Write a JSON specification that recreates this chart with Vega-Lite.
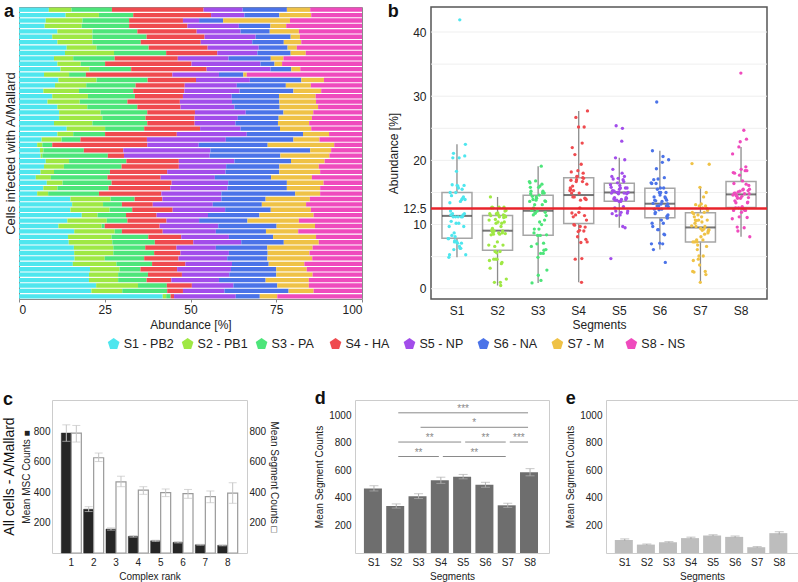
{
  "$schema": "https://vega.github.io/schema/vega-lite/v6.json",
  "padding": {"left": 2, "top": 2, "right": 1, "bottom": 1},
  "background": "white",
  "config": {
    "font": "Liberation Sans",
    "view": {"stroke": "#8c8c8c"},
    "axis": {"labelColor": "#222222", "titleColor": "#222222", "titleFontWeight": "normal", "grid": false, "domain": false, "ticks": false, "labelFontSize": 12, "titleFontSize": 12, "labelOverlap": false},
    "title": {"fontSize": 18, "fontWeight": "bold", "anchor": "start", "frame": "bounds", "color": "#111111"}
  },
  "datasets": {
    "cells": [
      {"cell":1,"S1":8.7,"S2":6.6,"S3":11.8,"S4":26.7,"S5":11.4,"S6":12.9,"S7":6.8,"S8":15.1},
      {"cell":2,"S1":13.6,"S2":9.7,"S3":10.0,"S4":22.7,"S5":9.7,"S6":10.2,"S7":9.3,"S8":14.8},
      {"cell":3,"S1":7.8,"S2":10.7,"S3":13.6,"S4":15.7,"S5":4.7,"S6":7.0,"S7":19.5,"S8":21.0},
      {"cell":4,"S1":7.5,"S2":10.8,"S3":13.8,"S4":17.0,"S5":15.0,"S6":9.2,"S7":4.6,"S8":22.1},
      {"cell":5,"S1":11.2,"S2":10.2,"S3":13.1,"S4":17.3,"S5":12.8,"S6":8.5,"S7":8.5,"S8":18.4},
      {"cell":6,"S1":9.7,"S2":11.7,"S3":15.8,"S4":16.9,"S5":14.9,"S6":10.2,"S7":2.7,"S8":18.1},
      {"cell":7,"S1":11.2,"S2":10.2,"S3":14.1,"S4":17.5,"S5":15.0,"S6":9.2,"S7":5.1,"S8":17.7},
      {"cell":8,"S1":13.9,"S2":8.7,"S3":15.2,"S4":17.2,"S5":14.9,"S6":8.4,"S7":2.7,"S8":19.0},
      {"cell":9,"S1":13.4,"S2":14.3,"S3":15.2,"S4":14.9,"S5":11.7,"S6":9.7,"S7":4.4,"S8":16.4},
      {"cell":10,"S1":10.2,"S2":5.6,"S3":12.1,"S4":18.4,"S5":14.8,"S6":12.3,"S7":3.7,"S8":22.9},
      {"cell":11,"S1":11.2,"S2":6.8,"S3":7.1,"S4":25.2,"S5":20.1,"S6":4.1,"S7":2.2,"S8":23.3},
      {"cell":12,"S1":12.1,"S2":8.4,"S3":12.2,"S4":22.0,"S5":18.6,"S6":6.1,"S7":2.6,"S8":18.0},
      {"cell":13,"S1":7.3,"S2":7.3,"S3":4.9,"S4":25.2,"S5":13.6,"S6":7.1,"S7":1.0,"S8":33.6},
      {"cell":14,"S1":11.5,"S2":11.1,"S3":14.9,"S4":14.1,"S5":15.7,"S6":15.0,"S7":6.6,"S8":11.1},
      {"cell":15,"S1":10.5,"S2":9.1,"S3":14.4,"S4":14.3,"S5":15.2,"S6":14.3,"S7":7.3,"S8":14.9},
      {"cell":16,"S1":7.1,"S2":10.4,"S3":15.8,"S4":14.9,"S5":16.1,"S6":15.7,"S7":8.1,"S8":11.9},
      {"cell":17,"S1":9.7,"S2":10.4,"S3":13.7,"S4":14.0,"S5":14.2,"S6":13.8,"S7":10.7,"S8":13.5},
      {"cell":18,"S1":8.3,"S2":9.4,"S3":13.9,"S4":15.3,"S5":15.2,"S6":13.8,"S7":10.7,"S8":13.4},
      {"cell":19,"S1":11.2,"S2":8.7,"S3":14.6,"S4":12.6,"S5":15.7,"S6":13.2,"S7":11.2,"S8":12.8},
      {"cell":20,"S1":11.7,"S2":12.1,"S3":13.6,"S4":13.9,"S5":14.8,"S6":11.0,"S7":8.7,"S8":14.2},
      {"cell":21,"S1":11.7,"S2":12.6,"S3":12.6,"S4":14.3,"S5":12.6,"S6":11.9,"S7":9.7,"S8":14.6},
      {"cell":22,"S1":10.2,"S2":11.2,"S3":16.0,"S4":13.8,"S5":11.9,"S6":12.4,"S7":9.1,"S8":15.4},
      {"cell":23,"S1":13.9,"S2":11.2,"S3":11.4,"S4":16.3,"S5":11.8,"S6":11.5,"S7":9.1,"S8":14.8},
      {"cell":24,"S1":11.2,"S2":4.6,"S3":9.3,"S4":20.9,"S5":20.4,"S6":16.4,"S7":7.6,"S8":9.6},
      {"cell":25,"S1":6.6,"S2":5.8,"S3":5.5,"S4":19.4,"S5":23.0,"S6":19.7,"S7":7.6,"S8":12.4},
      {"cell":26,"S1":5.3,"S2":1.5,"S3":2.9,"S4":27.7,"S5":15.0,"S6":20.1,"S7":19.4,"S8":8.1},
      {"cell":27,"S1":6.1,"S2":1.0,"S3":11.8,"S4":11.5,"S5":25.4,"S6":29.1,"S7":6.1,"S8":9.0},
      {"cell":28,"S1":6.3,"S2":0.5,"S3":19.1,"S4":4.7,"S5":25.0,"S6":20.6,"S7":14.3,"S8":9.5},
      {"cell":29,"S1":7.8,"S2":6.8,"S3":16.7,"S4":15.3,"S5":16.2,"S6":16.5,"S7":9.8,"S8":10.9},
      {"cell":30,"S1":7.3,"S2":5.8,"S3":16.8,"S4":16.7,"S5":13.8,"S6":15.5,"S7":11.5,"S8":12.6},
      {"cell":31,"S1":6.3,"S2":3.9,"S3":16.3,"S4":16.7,"S5":17.0,"S6":15.7,"S7":11.9,"S8":12.2},
      {"cell":32,"S1":4.9,"S2":4.4,"S3":16.5,"S4":15.5,"S5":15.8,"S6":16.4,"S7":11.9,"S8":14.6},
      {"cell":33,"S1":8.1,"S2":4.6,"S3":14.3,"S4":17.5,"S5":16.5,"S6":17.1,"S7":10.7,"S8":11.2},
      {"cell":34,"S1":7.1,"S2":4.1,"S3":14.9,"S4":18.0,"S5":16.7,"S6":17.3,"S7":9.7,"S8":12.2},
      {"cell":35,"S1":5.3,"S2":3.2,"S3":14.8,"S4":18.2,"S5":17.5,"S6":21.5,"S7":7.3,"S8":12.2},
      {"cell":36,"S1":15.0,"S2":11.7,"S3":7.0,"S4":8.1,"S5":17.2,"S6":12.9,"S7":12.9,"S8":15.2},
      {"cell":37,"S1":15.5,"S2":9.0,"S3":5.5,"S4":9.0,"S5":17.5,"S6":14.3,"S7":12.9,"S8":16.3},
      {"cell":38,"S1":15.0,"S2":11.4,"S3":6.6,"S4":11.8,"S5":15.3,"S6":13.3,"S7":11.7,"S8":14.9},
      {"cell":39,"S1":18.3,"S2":4.6,"S3":8.3,"S4":8.9,"S5":15.0,"S6":15.0,"S7":15.8,"S8":14.1},
      {"cell":40,"S1":14.1,"S2":11.5,"S3":6.0,"S4":11.4,"S5":9.5,"S6":14.1,"S7":15.0,"S8":18.4},
      {"cell":41,"S1":11.5,"S2":12.6,"S3":0.9,"S4":16.0,"S5":17.1,"S6":17.0,"S7":11.2,"S8":13.7},
      {"cell":42,"S1":16.1,"S2":11.8,"S3":2.1,"S4":11.9,"S5":15.5,"S6":14.6,"S7":9.4,"S8":18.6},
      {"cell":43,"S1":14.3,"S2":12.7,"S3":10.7,"S4":9.6,"S5":13.9,"S6":12.9,"S7":12.5,"S8":13.4},
      {"cell":44,"S1":14.5,"S2":12.7,"S3":12.4,"S4":11.2,"S5":14.0,"S6":12.4,"S7":10.2,"S8":12.6},
      {"cell":45,"S1":16.0,"S2":11.5,"S3":9.3,"S4":9.1,"S5":11.5,"S6":15.0,"S7":13.2,"S8":14.4},
      {"cell":46,"S1":16.1,"S2":11.4,"S3":11.9,"S4":7.7,"S5":14.1,"S6":11.3,"S7":12.2,"S8":15.3},
      {"cell":47,"S1":16.2,"S2":8.8,"S3":11.5,"S4":10.0,"S5":14.2,"S6":11.7,"S7":13.1,"S8":14.5},
      {"cell":48,"S1":15.7,"S2":12.7,"S3":10.4,"S4":9.7,"S5":13.6,"S6":10.7,"S7":10.4,"S8":16.8},
      {"cell":49,"S1":20.7,"S2":8.6,"S3":6.1,"S4":10.7,"S5":15.7,"S6":13.2,"S7":8.9,"S8":16.1},
      {"cell":50,"S1":20.4,"S2":8.5,"S3":8.7,"S4":9.9,"S5":13.8,"S6":13.7,"S7":10.6,"S8":14.4},
      {"cell":51,"S1":20.4,"S2":8.5,"S3":8.3,"S4":7.2,"S5":13.9,"S6":13.6,"S7":12.6,"S8":15.5},
      {"cell":52,"S1":22.5,"S2":12.2,"S3":8.4,"S4":7.3,"S5":12.1,"S6":12.8,"S7":9.2,"S8":15.5},
      {"cell":53,"S1":21.1,"S2":9.0,"S3":13.1,"S4":4.6,"S5":12.1,"S6":18.7,"S7":7.3,"S8":14.1},
      {"cell":54,"S1":41.9,"S2":1.0,"S3":1.3,"S4":1.0,"S5":18.0,"S6":7.0,"S7":5.1,"S8":24.7}
    ],
    "legend": [
      {"seg":"S1","label":"S1 - PB2"},{"seg":"S2","label":"S2 - PB1"},{"seg":"S3","label":"S3 - PA"},{"seg":"S4","label":"S4 - HA"},
      {"seg":"S5","label":"S5 - NP"},{"seg":"S6","label":"S6 - NA"},{"seg":"S7","label":"S7 - M"},{"seg":"S8","label":"S8 - NS"}
    ],
    "cdata": [
      {"rank":1,"type":"MSC","mean":787,"lo":733,"hi":841},{"rank":1,"type":"Seg","mean":787,"lo":728,"hi":837},
      {"rank":2,"type":"MSC","mean":287,"lo":272,"hi":304},{"rank":2,"type":"Seg","mean":625,"lo":600,"hi":656},
      {"rank":3,"type":"MSC","mean":157,"lo":150,"hi":165},{"rank":3,"type":"Seg","mean":467,"lo":435,"hi":504},
      {"rank":4,"type":"MSC","mean":109,"lo":104,"hi":114},{"rank":4,"type":"Seg","mean":413,"lo":385,"hi":435},
      {"rank":5,"type":"MSC","mean":80,"lo":76,"hi":84},{"rank":5,"type":"Seg","mean":396,"lo":370,"hi":420},
      {"rank":6,"type":"MSC","mean":70,"lo":66,"hi":74},{"rank":6,"type":"Seg","mean":389,"lo":359,"hi":417},
      {"rank":7,"type":"MSC","mean":54,"lo":51,"hi":57},{"rank":7,"type":"Seg","mean":370,"lo":330,"hi":407},
      {"rank":8,"type":"MSC","mean":50,"lo":47,"hi":53},{"rank":8,"type":"Seg","mean":393,"lo":326,"hi":461}
    ],
    "ddata": [
      {"seg":"S1","mean":468,"lo":450,"hi":488},{"seg":"S2","mean":341,"lo":326,"hi":356},
      {"seg":"S3","mean":412,"lo":395,"hi":430},{"seg":"S4","mean":527,"lo":505,"hi":550},
      {"seg":"S5","mean":554,"lo":538,"hi":570},{"seg":"S6","mean":495,"lo":477,"hi":513},
      {"seg":"S7","mean":346,"lo":331,"hi":361},{"seg":"S8","mean":585,"lo":560,"hi":612}
    ],
    "edata": [
      {"seg":"S1","mean":95,"lo":88,"hi":102},{"seg":"S2","mean":61,"lo":57,"hi":65},
      {"seg":"S3","mean":78,"lo":74,"hi":82},{"seg":"S4","mean":108,"lo":101,"hi":115},
      {"seg":"S5","mean":127,"lo":122,"hi":132},{"seg":"S6","mean":117,"lo":111,"hi":123},
      {"seg":"S7","mean":42,"lo":38,"hi":46},{"seg":"S8","mean":144,"lo":134,"hi":154}
    ],
    "sig": [
      {"i1":2,"i2":8,"y":1017,"label":"***"},
      {"i1":3,"i2":8,"y":912,"label":"*"},
      {"i1":2,"i2":5,"y":805,"label":"**"},
      {"i1":5,"i2":7,"y":805,"label":"**"},
      {"i1":7,"i2":8,"y":805,"label":"***"},
      {"i1":2,"i2":4,"y":700,"label":"**"},
      {"i1":4,"i2":7,"y":700,"label":"**"}
    ]
  },
  "vconcat": [
    {
      "vconcat": [
        {
          "hconcat": [
            {
              "width": 343, "height": 292,
              "title": {"text": "a", "offset": -14},
              "data": {"name": "cells"},
              "transform": [{"fold": ["S1","S2","S3","S4","S5","S6","S7","S8"], "as": ["seg","value"]}],
              "mark": {"type": "bar", "clip": true},
              "encoding": {
                "y": {"field": "cell", "type": "ordinal", "scale": {"paddingInner": 0.2, "paddingOuter": 0.1},
                      "axis": {"title": "Cells infected with A/Mallard", "labels": false, "titleFontSize": 13, "titlePadding": 2}},
                "x": {"field": "value", "type": "quantitative", "stack": "zero", "scale": {"domain": [0,100], "nice": false},
                      "axis": {"values": [0,25,50,75,100], "labelOverlap": false, "title": "Abundance [%]", "ticks": true, "tickSize": 3, "tickColor": "#888888", "labelPadding": 2, "titlePadding": 4}},
                "color": {"field": "seg", "type": "nominal",
                          "scale": {"domain": ["S1","S2","S3","S4","S5","S6","S7","S8"], "range": ["#4FE6EE","#9FE844","#4DE57A","#EF4B4F","#A24DEA","#4B73E8","#EFC246","#EF4BBD"]},
                          "legend": null},
                "order": {"field": "seg", "type": "ordinal"}
              }
            },
            {
              "width": 336, "height": 292,
              "title": {"text": "b", "offset": -14},
              "view": {"stroke": "#555555", "strokeWidth": 1.5},
              "layer": [
                {
                  "data": {"values": [{"g": 0}, {"g": 5}, {"g": 10}, {"g": 15}, {"g": 20}, {"g": 25}, {"g": 30}, {"g": 35}, {"g": 40}]},
                  "mark": {"type": "rule", "color": "#efefef", "strokeWidth": 1},
                  "encoding": {"y": {"field": "g", "type": "quantitative", "scale": {"domain": [-1.6, 43.9], "nice": false, "zero": false},
                               "axis": {"values": [0,10,12.5,20,30,40], "labelExpr": "format(datum.value, '~g')", "labelOverlap": false, "grid": false, "title": "Abundance [%]", "labelPadding": 5, "titlePadding": 2}}}
                },
                {
                  "data": {"name": "cells"},
                  "transform": [{"fold": ["S1","S2","S3","S4","S5","S6","S7","S8"], "as": ["seg","value"]}],
                  "mark": {"type": "boxplot", "extent": 1.5, "size": 30, "outliers": false, "ticks": false,
                           "box": {"fill": "white", "fillOpacity": 0, "stroke": "#a6a6a6", "strokeWidth": 1.5},
                           "median": {"color": "#3c3c3c", "thickness": 2},
                           "rule": {"stroke": "#8c8c8c", "strokeWidth": 1.3}},
                  "encoding": {
                    "x": {"field": "seg", "type": "nominal", "scale": {"paddingInner": 0.56, "paddingOuter": 0.42},
                          "axis": {"title": "Segments", "labelAngle": 0, "labelPadding": 6, "titlePadding": 3}},
                    "y": {"field": "value", "type": "quantitative", "scale": {"domain": [-1.6, 43.9], "nice": false, "zero": false},
                          "axis": {"values": [0,10,12.5,20,30,40], "labelExpr": "format(datum.value, '~g')", "labelOverlap": false, "grid": false, "title": "Abundance [%]", "labelPadding": 5, "titlePadding": 2}}
                  }
                },
                {
                  "data": {"name": "cells"},
                  "transform": [{"fold": ["S1","S2","S3","S4","S5","S6","S7","S8"], "as": ["seg","value"]}],
                  "mark": {"type": "circle", "size": 11, "opacity": 1},
                  "encoding": {
                    "x": {"field": "seg", "type": "nominal"},
                    "y": {"field": "value", "type": "quantitative", "scale": {"domain": [-1.6, 43.9], "nice": false, "zero": false},
                          "axis": {"values": [0,10,12.5,20,30,40], "labelExpr": "format(datum.value, '~g')", "labelOverlap": false, "grid": false, "title": "Abundance [%]", "labelPadding": 5, "titlePadding": 2}},
                    "xOffset": {"field": "cell", "type": "nominal",
                                "scale": {"domain": [29,3,32,6,35,9,38,12,41,15,44,18,47,21,50,24,53,27,1,30,4,33,7,36,10,39,13,42,16,45,19,48,22,51,25,54,28,2,31,5,34,8,37,11,40,14,43,17,46,20,49,23,52,26]}},
                    "color": {"field": "seg", "type": "nominal",
                              "scale": {"domain": ["S1","S2","S3","S4","S5","S6","S7","S8"], "range": ["#4FE6EE","#9FE844","#4DE57A","#EF4B4F","#A24DEA","#4B73E8","#EFC246","#EF4BBD"]},
                              "legend": null}
                  }
                },
                {
                  "data": {"values": [{"ref": 12.5}]},
                  "mark": {"type": "rule", "color": "#E8242C", "strokeWidth": 2.5},
                  "encoding": {"y": {"field": "ref", "type": "quantitative", "scale": {"domain": [-1.6, 43.9], "nice": false, "zero": false},
                               "axis": {"values": [0,10,12.5,20,30,40], "labelExpr": "format(datum.value, '~g')", "labelOverlap": false, "grid": false, "title": "Abundance [%]", "labelPadding": 5, "titlePadding": 2}}}
                }
              ]
            }
          ],
          "spacing": 23
        },
        {
          "width": 707, "height": 14,
          "view": {"stroke": null},
          "data": {"name": "legend"},
          "encoding": {"x": {"field": "seg", "type": "nominal", "scale": {"type": "band", "paddingInner": 0, "paddingOuter": 0.78}, "axis": null}},
          "layer": [
            {
              "mark": {"type": "point", "shape": "M0,-1L0.951,-0.309L0.588,0.809L-0.588,0.809L-0.951,-0.309Z", "filled": true, "size": 150, "opacity": 1},
              "encoding": {"color": {"field": "seg", "type": "nominal",
                           "scale": {"domain": ["S1","S2","S3","S4","S5","S6","S7","S8"], "range": ["#4FE6EE","#9FE844","#4DE57A","#EF4B4F","#A24DEA","#4B73E8","#EFC246","#EF4BBD"]},
                           "legend": null}}
            },
            {
              "mark": {"type": "text", "align": "left", "dx": 10, "fontSize": 12.5, "color": "#222222"},
              "encoding": {"text": {"field": "label"}}
            }
          ]
        }
      ],
      "spacing": 6
    },
    {
      "title": {"text": "c", "offset": -19},
      "hconcat": [
        {
          "width": 1, "height": 153,
          "view": {"stroke": null},
          "title": {"text": "All cells - A/Mallard", "orient": "left", "anchor": "middle", "frame": "group", "fontSize": 14, "fontWeight": "normal", "offset": 2},
          "data": {"values": []},
          "mark": "point",
          "encoding": {}
        },
        {
          "hconcat": [
            {
              "width": 195, "height": 153,
              "view": {"stroke": "#cccccc"},
              "data": {"name": "cdata"},
              "encoding": {
                "x": {"field": "rank", "type": "ordinal", "scale": {"paddingInner": 0.09, "paddingOuter": 0.41},
                      "axis": {"title": "Complex rank", "labelAngle": 0, "labelFontSize": 10, "titleFontSize": 10, "labelPadding": 4, "titlePadding": 4}}
              },
              "layer": [
                {
                  "transform": [{"filter": "datum.type === 'MSC'"}],
                  "mark": {"type": "bar", "fill": "#262626", "stroke": "#262626", "strokeWidth": 0.5, "width": 10, "xOffset": -5},
                  "encoding": {"y": {"field": "mean", "type": "quantitative", "scale": {"domain": [0,1004], "nice": false},
                               "axis": {"values": [200,400,600,800], "format": "d", "labelOverlap": false, "title": "Mean MSC Counts ■", "labelFontSize": 10, "titleFontSize": 10, "labelPadding": 2, "titlePadding": 2}}}
                },
                {
                  "transform": [{"filter": "datum.type === 'Seg'"}],
                  "mark": {"type": "bar", "fill": "white", "stroke": "#9a9a9a", "strokeWidth": 1.2, "width": 10, "xOffset": 5},
                  "encoding": {"y": {"field": "mean", "type": "quantitative", "scale": {"domain": [0,1004], "nice": false},
                               "axis": {"orient": "right", "values": [200,400,600,800], "format": "d", "labelOverlap": false, "title": "Mean Segment Counts □", "labelFontSize": 10, "titleFontSize": 10, "labelPadding": 2, "titlePadding": 3}}}
                },
                {
                  "transform": [{"filter": "datum.type === 'MSC'"}],
                  "mark": {"type": "rule", "color": "#c4c4c4", "xOffset": -5},
                  "encoding": {"y": {"field": "lo", "type": "quantitative", "scale": {"domain": [0,1004], "nice": false}, "axis": null}, "y2": {"field": "hi"}}
                },
                {
                  "transform": [{"filter": "datum.type === 'Seg'"}],
                  "mark": {"type": "rule", "color": "#c4c4c4", "xOffset": 5},
                  "encoding": {"y": {"field": "lo", "type": "quantitative", "scale": {"domain": [0,1004], "nice": false}, "axis": null}, "y2": {"field": "hi"}}
                },
                {
                  "transform": [{"filter": "datum.type === 'MSC'"}, {"fold": ["lo","hi"], "as": ["end","v"]}],
                  "mark": {"type": "tick", "color": "#c4c4c4", "thickness": 1, "size": 8, "xOffset": -5},
                  "encoding": {"y": {"field": "v", "type": "quantitative", "scale": {"domain": [0,1004], "nice": false}, "axis": null}}
                },
                {
                  "transform": [{"filter": "datum.type === 'Seg'"}, {"fold": ["lo","hi"], "as": ["end","v"]}],
                  "mark": {"type": "tick", "color": "#c4c4c4", "thickness": 1, "size": 8, "xOffset": 5},
                  "encoding": {"y": {"field": "v", "type": "quantitative", "scale": {"domain": [0,1004], "nice": false}, "axis": null}}
                }
              ],
              "resolve": {"scale": {"y": "independent"}}
            },
            {
              "hconcat": [
                {
                  "width": 194, "height": 153,
                  "title": {"text": "d", "offset": -8},
                  "view": {"stroke": "#cccccc"},
                  "layer": [
                    {
                      "data": {"name": "ddata"},
                      "encoding": {"x": {"field": "seg", "type": "nominal", "scale": {"paddingInner": 0.1, "paddingOuter": 0.4},
                                   "axis": {"title": "Segments", "labelAngle": 0, "labelFontSize": 10, "titleFontSize": 10, "labelPadding": 4, "titlePadding": 4}}},
                      "layer": [
                        {
                          "mark": {"type": "bar", "color": "#6e6e6e"},
                          "encoding": {"y": {"field": "mean", "type": "quantitative", "scale": {"domain": [0,1110], "nice": false},
                                       "axis": {"values": [200,400,600,800,1000], "labelExpr": "format(datum.value, 'd')", "labelOverlap": false, "title": "Mean Segment Counts", "labelFontSize": 10, "titleFontSize": 10, "labelPadding": 4, "titlePadding": 4}}}
                        },
                        {
                          "mark": {"type": "rule", "color": "#b0b0b0"},
                          "encoding": {"y": {"field": "lo", "type": "quantitative", "scale": {"domain": [0,1110], "nice": false},
                                       "axis": {"values": [200,400,600,800,1000], "labelExpr": "format(datum.value, 'd')", "labelOverlap": false, "title": "Mean Segment Counts", "labelFontSize": 10, "titleFontSize": 10, "labelPadding": 4, "titlePadding": 4}},
                                       "y2": {"field": "hi"}}
                        },
                        {
                          "transform": [{"fold": ["lo","hi"], "as": ["end","v"]}],
                          "mark": {"type": "tick", "color": "#b0b0b0", "thickness": 1, "size": 9},
                          "encoding": {"y": {"field": "v", "type": "quantitative", "scale": {"domain": [0,1110], "nice": false},
                                       "axis": {"values": [200,400,600,800,1000], "labelExpr": "format(datum.value, 'd')", "labelOverlap": false, "title": "Mean Segment Counts", "labelFontSize": 10, "titleFontSize": 10, "labelPadding": 4, "titlePadding": 4}}}
                        }
                      ]
                    },
                    {
                      "data": {"name": "sig"},
                      "layer": [
                        {
                          "mark": {"type": "rule", "color": "#8a8a8a", "strokeWidth": 1, "xOffset": 2, "x2Offset": -2},
                          "encoding": {
                            "x": {"field": "i1", "type": "quantitative", "scale": {"domain": [0.15, 8.85], "nice": false, "zero": false}, "axis": null},
                            "x2": {"field": "i2"},
                            "y": {"field": "y", "type": "quantitative", "scale": {"domain": [0,1110], "nice": false},
                                  "axis": {"values": [200,400,600,800,1000], "labelExpr": "format(datum.value, 'd')", "labelOverlap": false, "title": "Mean Segment Counts", "labelFontSize": 10, "titleFontSize": 10, "labelPadding": 4, "titlePadding": 4}}
                          }
                        },
                        {
                          "transform": [
                            {"fold": ["i1","i2"], "as": ["end","pos"]},
                            {"aggregate": [{"op": "mean", "field": "pos", "as": "mid"}], "groupby": ["i1","i2","y","label"]}
                          ],
                          "mark": {"type": "text", "color": "#8a8a8a", "fontSize": 10, "baseline": "bottom", "dy": 1},
                          "encoding": {
                            "x": {"field": "mid", "type": "quantitative", "scale": {"domain": [0.15, 8.85], "nice": false, "zero": false}, "axis": null},
                            "y": {"field": "y", "type": "quantitative", "scale": {"domain": [0,1110], "nice": false},
                                  "axis": {"values": [200,400,600,800,1000], "labelExpr": "format(datum.value, 'd')", "labelOverlap": false, "title": "Mean Segment Counts", "labelFontSize": 10, "titleFontSize": 10, "labelPadding": 4, "titlePadding": 4}},
                            "text": {"field": "label"}
                          }
                        }
                      ]
                    }
                  ],
                  "resolve": {"scale": {"x": "independent"}}
                },
                {
                  "width": 192, "height": 153,
                  "title": {"text": "e", "offset": -8},
                  "view": {"stroke": "#cccccc"},
                  "data": {"name": "edata"},
                  "encoding": {"x": {"field": "seg", "type": "nominal", "scale": {"paddingInner": 0.1, "paddingOuter": 0.4},
                               "axis": {"title": "Segments", "labelAngle": 0, "labelFontSize": 10, "titleFontSize": 10, "labelPadding": 4, "titlePadding": 4}}},
                  "layer": [
                    {
                      "mark": {"type": "bar", "color": "#bdbdbd"},
                      "encoding": {"y": {"field": "mean", "type": "quantitative", "scale": {"domain": [0,1110], "nice": false},
                                   "axis": {"values": [200,400,600,800,1000], "labelExpr": "format(datum.value, 'd')", "labelOverlap": false, "title": "Mean Segment Counts", "labelFontSize": 10, "titleFontSize": 10, "labelPadding": 4, "titlePadding": 4}}}
                    },
                    {
                      "mark": {"type": "rule", "color": "#a8a8a8"},
                      "encoding": {"y": {"field": "lo", "type": "quantitative", "scale": {"domain": [0,1110], "nice": false},
                                   "axis": {"values": [200,400,600,800,1000], "labelExpr": "format(datum.value, 'd')", "labelOverlap": false, "title": "Mean Segment Counts", "labelFontSize": 10, "titleFontSize": 10, "labelPadding": 4, "titlePadding": 4}},
                                   "y2": {"field": "hi"}}
                    },
                    {
                      "mark": {"type": "tick", "color": "#a8a8a8", "thickness": 1, "size": 9},
                      "encoding": {"y": {"field": "hi", "type": "quantitative", "scale": {"domain": [0,1110], "nice": false},
                                   "axis": {"values": [200,400,600,800,1000], "labelExpr": "format(datum.value, 'd')", "labelOverlap": false, "title": "Mean Segment Counts", "labelFontSize": 10, "titleFontSize": 10, "labelPadding": 4, "titlePadding": 4}}}
                    }
                  ]
                }
              ],
              "spacing": 15
            }
          ],
          "spacing": 34
        }
      ],
      "spacing": 0
    }
  ],
  "spacing": 38
}
